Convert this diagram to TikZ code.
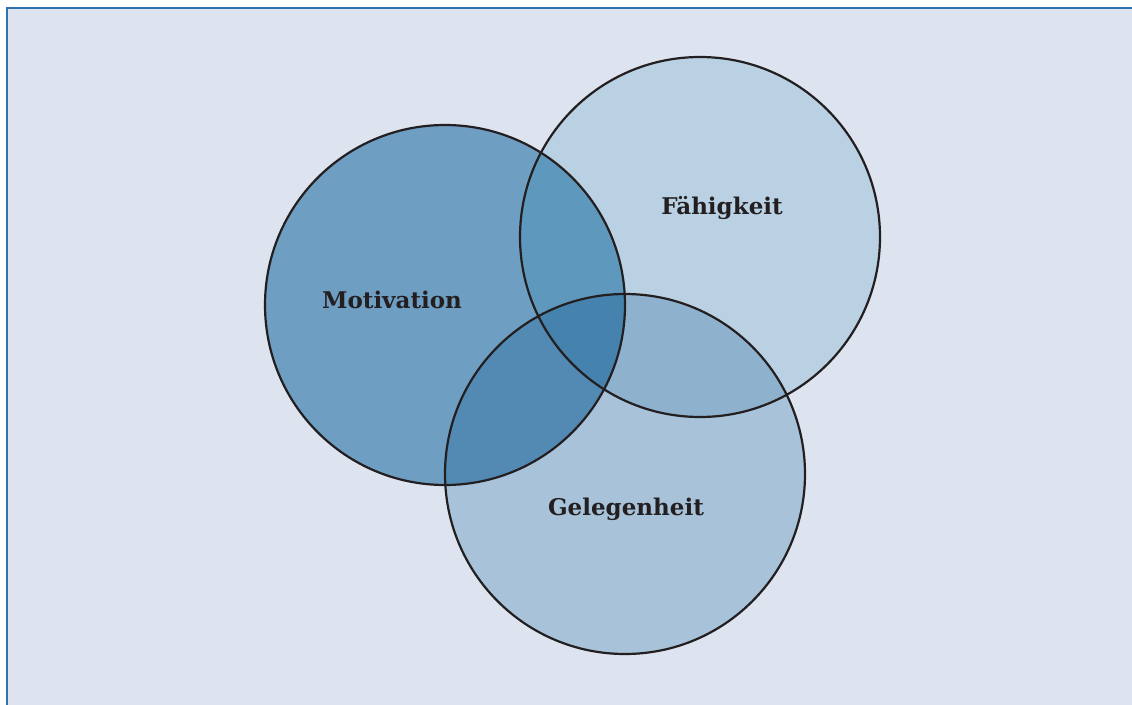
\documentclass[tikz,border=0pt]{standalone}
\usepackage{fontspec}
\setmainfont{DejaVu Serif}
\definecolor{bgc}{HTML}{DDE4F0}
\definecolor{framec}{HTML}{2F72AD}
\definecolor{motc}{HTML}{6F9EC3}
\definecolor{faec}{HTML}{BAD0E3}
\definecolor{gelc}{HTML}{A7C2D9}
\definecolor{mfc}{HTML}{5F98BD}
\definecolor{fgc}{HTML}{8EB2CD}
\definecolor{mgc}{HTML}{528AB4}
\definecolor{allc}{HTML}{4582AE}
\definecolor{linec}{HTML}{231F20}
\begin{document}
\begin{tikzpicture}[x=1pt,y=-1pt,
  lbl/.style={font=\bfseries\fontsize{23}{27}\selectfont, text=linec},
  ring/.style={draw=linec, line width=2.2pt}]
\useasboundingbox (0,0) rectangle (1132,704);
\fill[white] (0,0) rectangle (1132,704);
\fill[bgc] (7,8) rectangle (1140,710);
\draw[framec, line width=2pt] (7,712) -- (7,8) -- (1140,8);
\coordinate (cm) at (445,305);
\coordinate (cf) at (700,237);
\coordinate (cg) at (625,474);
\def\R{180}
\fill[motc] (cm) circle (\R);
\fill[faec] (cf) circle (\R);
\fill[gelc] (cg) circle (\R);
\begin{scope}
  \clip (cm) circle (\R);
  \fill[mfc] (cf) circle (\R);
  \fill[mgc] (cg) circle (\R);
\end{scope}
\begin{scope}
  \clip (cf) circle (\R);
  \fill[fgc] (cg) circle (\R);
  \clip (cg) circle (\R);
  \fill[allc] (cm) circle (\R);
\end{scope}
\draw[ring] (cm) circle (\R);
\draw[ring] (cf) circle (\R);
\draw[ring] (cg) circle (\R);
\node[lbl] (mot) at (392,300) {Motivation};
\node[lbl] (fae) at (722,208) {Fähigkeit};
\node[lbl] (gel) at (626,509) {Gelegenheit};
\end{tikzpicture}
\end{document}
